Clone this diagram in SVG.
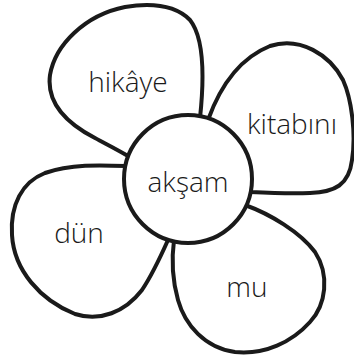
<svg xmlns="http://www.w3.org/2000/svg" width="354" height="361" viewBox="0 0 354 361">
<style>
.p{fill:#fff;stroke:#1a1a1a;stroke-width:4;stroke-linejoin:round}
.t{font-family:"Open Sans","Liberation Sans",sans-serif;font-weight:300;font-size:28px;fill:#1a1a1a;text-anchor:middle}
</style>
<rect width="354" height="361" fill="#fff"/>
<g id="petal-hikaye">
<path class="p" d="M200,118 C203,90 206,40 190,20 C175,5 150,3 125,7 C85,15 55,45 50,75 C46,105 70,125 95,138 C108,145 118,150 128,156 L188,179 Z"/>
<text class="t" x="128" y="92">hikâye</text>
</g>
<g id="petal-kitabini">
<path class="p" d="M208,120 C217,95 235,60 270,46 C300,36 330,55 343,80 C352,100 356,135 352,160 C349,185 335,192 310,193 C290,194 270,193 250,192 L188,179 Z"/>
<text class="t" x="292" y="134">kitabını</text>
</g>
<g id="petal-mu">
<path class="p" d="M245,205 C270,214 300,232 315,252 C330,275 326,305 310,322 C292,342 265,355 235,352 C205,348 185,325 178,300 C171,275 172,255 174,240 L188,179 Z"/>
<text class="t" x="247" y="297">mu</text>
</g>
<g id="petal-dun">
<path class="p" d="M126,166 C100,165 70,164 45,173 C22,182 10,205 12,235 C14,270 40,300 75,314 C100,322 125,312 142,290 C152,275 160,258 168,240 L188,179 Z"/>
<text class="t" x="79" y="243">dün</text>
</g>
<g id="center-aksam">
<circle class="p" cx="188" cy="179" r="64"/>
<text class="t" x="188" y="192">akşam</text>
</g>
</svg>
